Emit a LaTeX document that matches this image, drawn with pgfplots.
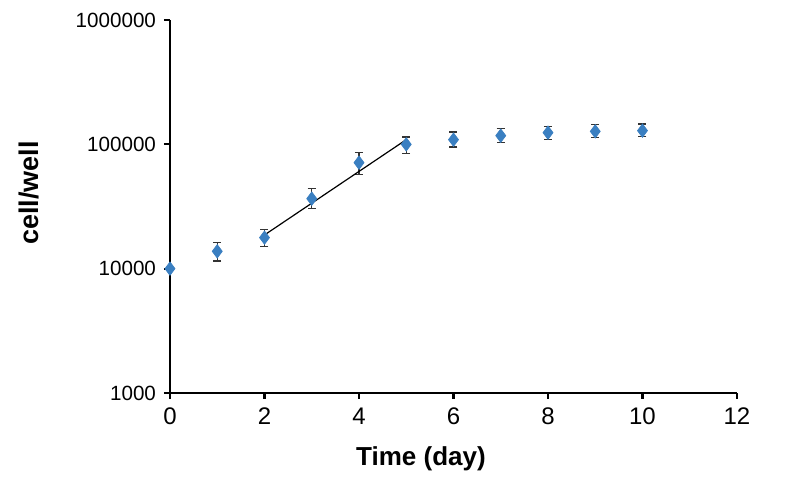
\documentclass[border=0pt]{standalone}
\usepackage{pgfplots}
\pgfplotsset{compat=1.18}
\usepackage{fontspec}
\setmainfont{Liberation Sans}
\definecolor{mblue}{HTML}{3A7FC1}
\definecolor{ebar}{HTML}{333333}
\begin{document}
\begin{tikzpicture}[x=1pt,y=1pt]
\path[use as bounding box] (0,0) rectangle (400,240);
\begin{axis}[
  at={(85pt,43.5pt)}, anchor=south west,
  scale only axis, width=283.5pt, height=186.5pt,
  ymode=log, xmin=0, xmax=12, ymin=1000, ymax=1000000,
  axis lines=left, axis line style={line width=1.2pt, -},
  xtick={0,2,4,6,8,10,12},
  ytick={1000,10000,100000,1000000},
  yticklabels={1000,10000,100000,1000000},
  yminorticks=false, xminorticks=false,
  tick style={line width=1.1pt, black},
  tick align=outside, major tick length=3pt,
  /pgf/number format/assume math mode=true,
  yticklabel style={font=\fontsize{10.3}{12}\selectfont, xshift=-0.5pt},
  xticklabel style={font=\fontsize{12}{14}\selectfont, yshift=-1pt},
  clip=false,
]
\addplot[only marks, mark=diamond*, mark size=3.3pt, mark options={fill=mblue, draw=mblue},
  error bars/.cd, y dir=both, y explicit, error mark=|,
  error bar style={ebar, line width=0.6pt},
  error mark options={mark size=2pt, line width=0.6pt, ebar}]
  table[x=x, y=y, y error plus=ep, y error minus=em] {
  x y ep em
  0 10000 0 0
  1 13780 2500 2250
  2 17760 2900 2700
  3 36560 7700 6200
  4 71210 14500 14200
  5 99900 14700 15300
  6 109000 16700 13800
  7 117400 17000 13700
  8 124100 15400 15100
  9 127100 16800 13900
  10 128800 17000 13500
  };
\addplot[black, line width=0.6pt] coordinates {(2,18660) (5,109000)};
\end{axis}
\node[rotate=90, font=\bfseries\fontsize{13.5}{16}\selectfont] at (14.5,143.5) {cell/well};
\node[anchor=base, font=\bfseries\fontsize{13}{16}\selectfont] at (210.5,7) {Time (day)};
\end{tikzpicture}
\end{document}
